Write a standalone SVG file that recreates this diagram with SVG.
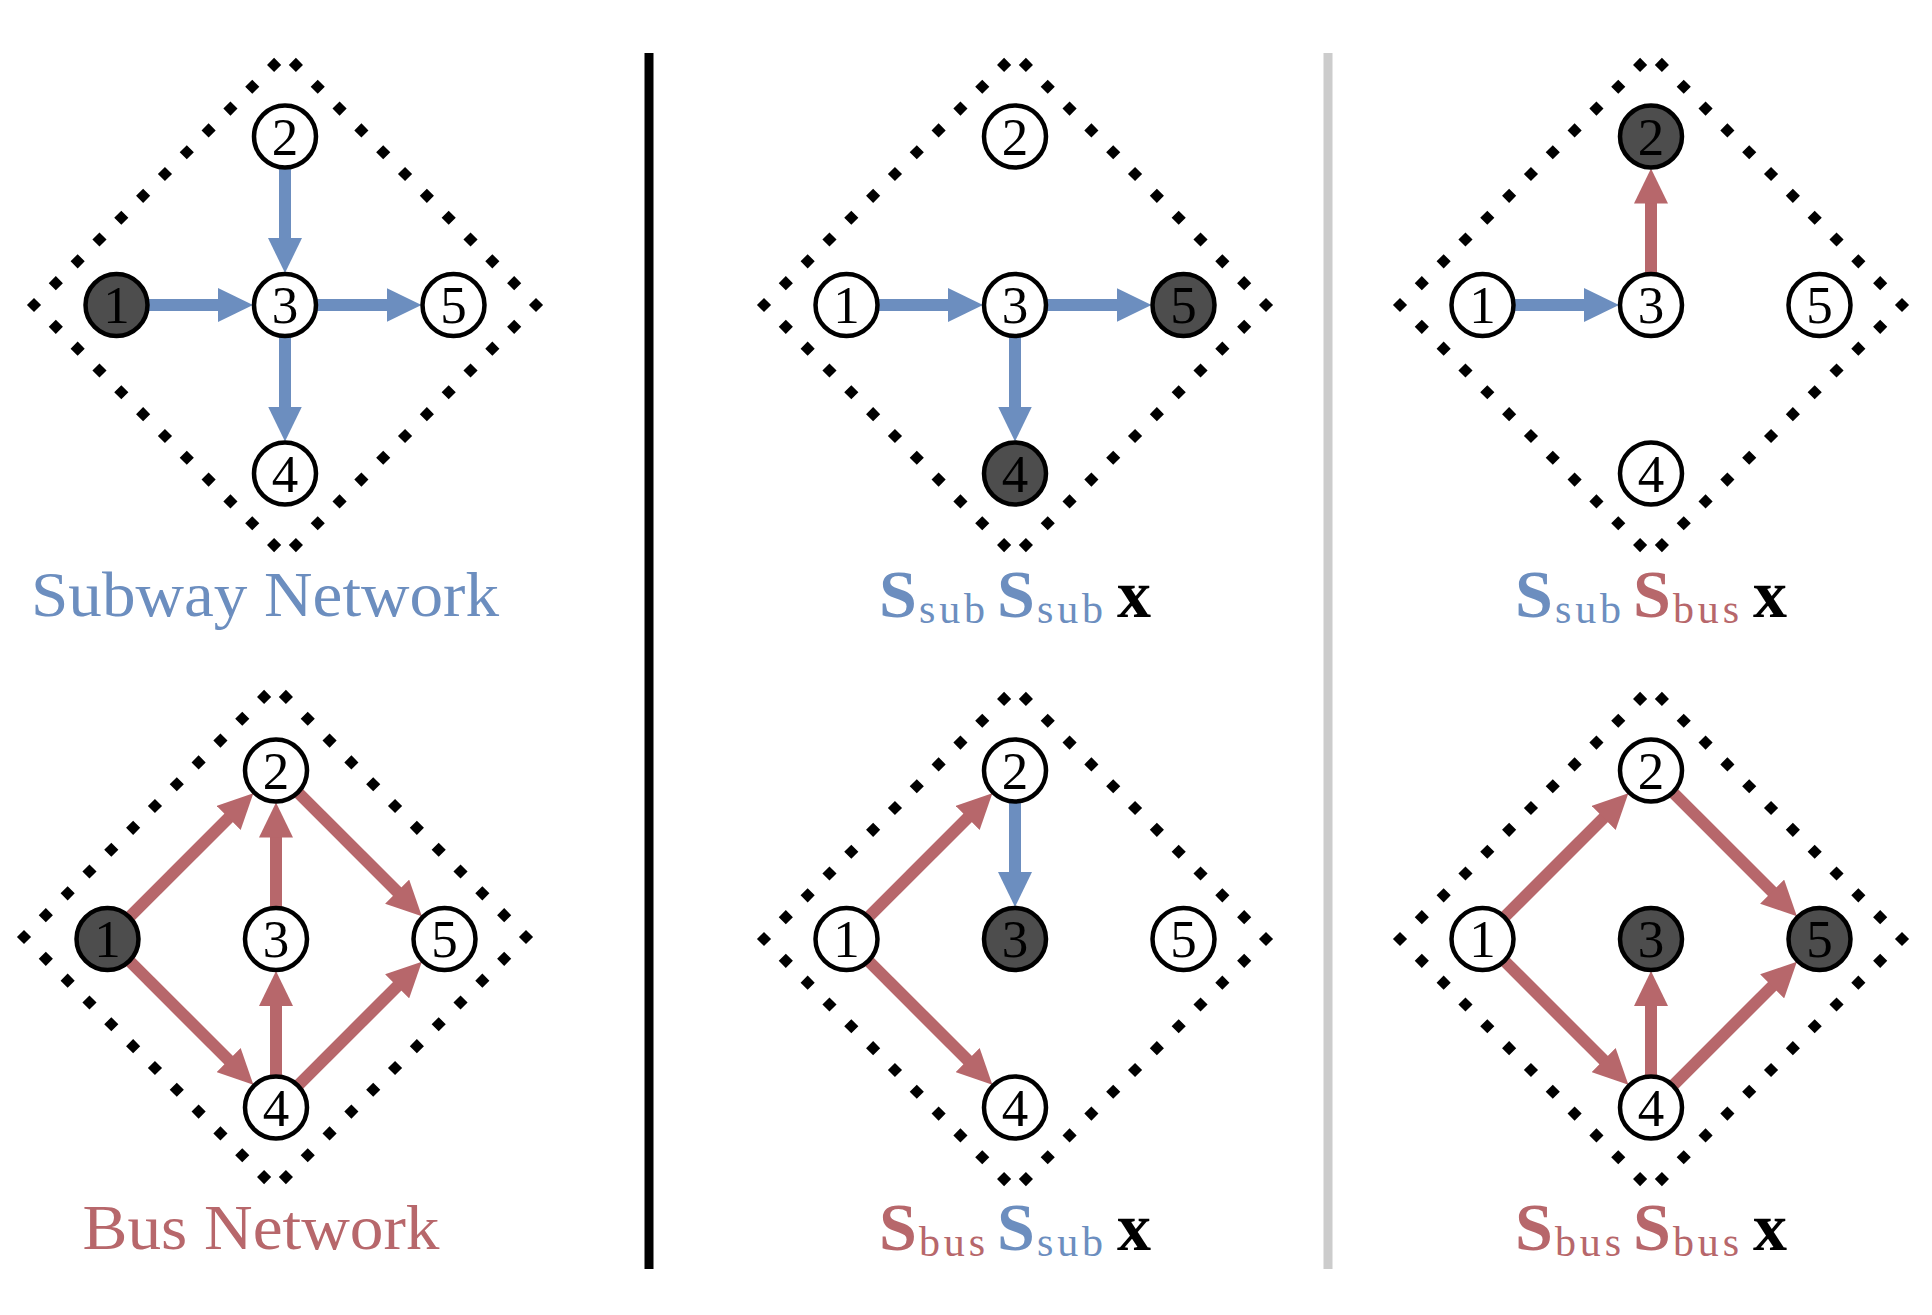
<svg xmlns="http://www.w3.org/2000/svg" width="1932" height="1315" viewBox="0 0 1932 1315">
<style>
.fl{fill:none;stroke:#000;stroke-width:10;stroke-linecap:butt;stroke-dasharray:10 20.867;stroke-dashoffset:20.434}
.node circle{fill:#fff;stroke:#000;stroke-width:4.5}
.node.on circle{fill:#4d4d4d}
.node text{font-family:"Liberation Serif",serif;font-size:53px;text-anchor:middle;fill:#000}
.sub-e{stroke:#6c8ebf;stroke-width:12;fill:none;marker-end:url(#ahB)}
.bus-e{stroke:#b7676b;stroke-width:12;fill:none;marker-end:url(#ahR)}
.title{font-family:"Liberation Serif",serif;font-size:64px;text-anchor:middle}
.S{font-family:"Liberation Serif",serif;font-size:68px;font-weight:bold}
.sb{font-family:"Liberation Serif",serif;font-size:42px}
.blue{fill:#6c8ebf}.red{fill:#b7676b}.blk{fill:#000}
</style>
<defs>
<marker id="ahB" markerUnits="userSpaceOnUse" viewBox="0 -17 35 34" markerWidth="35" markerHeight="34" refX="2" refY="0" orient="auto"><path d="M0,-17 L35,0 L0,17 Z" fill="#6c8ebf"/></marker>
<marker id="ahR" markerUnits="userSpaceOnUse" viewBox="0 -17 35 34" markerWidth="35" markerHeight="34" refX="2" refY="0" orient="auto"><path d="M0,-17 L35,0 L0,17 Z" fill="#b7676b"/></marker>
<g id="diamond">
<line class="fl" x1="0" y1="-251" x2="246.8" y2="-4.2"/>
<line class="fl" x1="0" y1="-251" x2="-246.8" y2="-4.2"/>
<line class="fl" x1="0" y1="251" x2="246.8" y2="4.2"/>
<line class="fl" x1="0" y1="251" x2="-246.8" y2="4.2"/>
<polygon points="-258.1,0 -251,-7.1 -243.9,0 -251,7.1" fill="#000"/>
<polygon points="243.9,0 251,-7.1 258.1,0 251,7.1" fill="#000"/>
</g>
</defs>
<rect width="1932" height="1315" fill="#fff"/>

<g id="separators">
<line x1="649" y1="53" x2="649" y2="1269" stroke="#000" stroke-width="9"/>
<line x1="1328" y1="53" x2="1328" y2="1269" stroke="#cccccc" stroke-width="9"/>
</g>

<g id="frames">
<use href="#diamond" transform="translate(285,305)"/>
<use href="#diamond" transform="translate(275,937)"/>
<use href="#diamond" transform="translate(1015,305)"/>
<use href="#diamond" transform="translate(1015,939)"/>
<use href="#diamond" transform="translate(1651,305)"/>
<use href="#diamond" transform="translate(1651,939)"/>
</g>

<g id="connectors">
<line class="sub-e" x1="148.5" y1="305" x2="220" y2="305"/>
<line class="sub-e" x1="285" y1="168.5" x2="285" y2="240"/>
<line class="sub-e" x1="317" y1="305" x2="388.5" y2="305"/>
<line class="sub-e" x1="285" y1="337" x2="285" y2="408.5"/>
<line class="bus-e" x1="130.13" y1="916.37" x2="230.04" y2="816.46"/>
<line class="bus-e" x1="130.13" y1="961.63" x2="230.04" y2="1061.54"/>
<line class="bus-e" x1="276" y1="907" x2="276" y2="835.5"/>
<line class="bus-e" x1="276" y1="1075.5" x2="276" y2="1004"/>
<line class="bus-e" x1="298.63" y1="793.13" x2="398.54" y2="893.04"/>
<line class="bus-e" x1="298.63" y1="1084.87" x2="398.54" y2="984.96"/>
<line class="sub-e" x1="878.5" y1="305" x2="950" y2="305"/>
<line class="sub-e" x1="1047" y1="305" x2="1118.5" y2="305"/>
<line class="sub-e" x1="1015" y1="337" x2="1015" y2="408.5"/>
<line class="bus-e" x1="869.13" y1="916.37" x2="969.04" y2="816.46"/>
<line class="bus-e" x1="869.13" y1="961.63" x2="969.04" y2="1061.54"/>
<line class="sub-e" x1="1015" y1="802.5" x2="1015" y2="874"/>
<line class="sub-e" x1="1514.5" y1="305" x2="1586" y2="305"/>
<line class="bus-e" x1="1651" y1="273" x2="1651" y2="201.5"/>
<line class="bus-e" x1="1505.13" y1="916.37" x2="1605.04" y2="816.46"/>
<line class="bus-e" x1="1505.13" y1="961.63" x2="1605.04" y2="1061.54"/>
<line class="bus-e" x1="1673.63" y1="793.13" x2="1773.54" y2="893.04"/>
<line class="bus-e" x1="1673.63" y1="1084.87" x2="1773.54" y2="984.96"/>
<line class="bus-e" x1="1651" y1="1075.5" x2="1651" y2="1004"/>
</g>

<g id="tl-n1" class="node on"><circle cx="116.5" cy="305" r="31"/><text x="116.5" y="323">1</text></g>
<g id="tl-n2" class="node"><circle cx="285" cy="136.5" r="31"/><text x="285" y="154.5">2</text></g>
<g id="tl-n3" class="node"><circle cx="285" cy="305" r="31"/><text x="285" y="323">3</text></g>
<g id="tl-n4" class="node"><circle cx="285" cy="473.5" r="31"/><text x="285" y="491.5">4</text></g>
<g id="tl-n5" class="node"><circle cx="453.5" cy="305" r="31"/><text x="453.5" y="323">5</text></g>

<g id="bl-n1" class="node on"><circle cx="107.5" cy="939" r="31"/><text x="107.5" y="957">1</text></g>
<g id="bl-n2" class="node"><circle cx="276" cy="770.5" r="31"/><text x="276" y="788.5">2</text></g>
<g id="bl-n3" class="node"><circle cx="276" cy="939" r="31"/><text x="276" y="957">3</text></g>
<g id="bl-n4" class="node"><circle cx="276" cy="1107.5" r="31"/><text x="276" y="1125.5">4</text></g>
<g id="bl-n5" class="node"><circle cx="444.5" cy="939" r="31"/><text x="444.5" y="957">5</text></g>

<g id="tm-n1" class="node"><circle cx="846.5" cy="305" r="31"/><text x="846.5" y="323">1</text></g>
<g id="tm-n2" class="node"><circle cx="1015" cy="136.5" r="31"/><text x="1015" y="154.5">2</text></g>
<g id="tm-n3" class="node"><circle cx="1015" cy="305" r="31"/><text x="1015" y="323">3</text></g>
<g id="tm-n4" class="node on"><circle cx="1015" cy="473.5" r="31"/><text x="1015" y="491.5">4</text></g>
<g id="tm-n5" class="node on"><circle cx="1183.5" cy="305" r="31"/><text x="1183.5" y="323">5</text></g>

<g id="bm-n1" class="node"><circle cx="846.5" cy="939" r="31"/><text x="846.5" y="957">1</text></g>
<g id="bm-n2" class="node"><circle cx="1015" cy="770.5" r="31"/><text x="1015" y="788.5">2</text></g>
<g id="bm-n3" class="node on"><circle cx="1015" cy="939" r="31"/><text x="1015" y="957">3</text></g>
<g id="bm-n4" class="node"><circle cx="1015" cy="1107.5" r="31"/><text x="1015" y="1125.5">4</text></g>
<g id="bm-n5" class="node"><circle cx="1183.5" cy="939" r="31"/><text x="1183.5" y="957">5</text></g>

<g id="tr-n1" class="node"><circle cx="1482.5" cy="305" r="31"/><text x="1482.5" y="323">1</text></g>
<g id="tr-n2" class="node on"><circle cx="1651" cy="136.5" r="31"/><text x="1651" y="154.5">2</text></g>
<g id="tr-n3" class="node"><circle cx="1651" cy="305" r="31"/><text x="1651" y="323">3</text></g>
<g id="tr-n4" class="node"><circle cx="1651" cy="473.5" r="31"/><text x="1651" y="491.5">4</text></g>
<g id="tr-n5" class="node"><circle cx="1819.5" cy="305" r="31"/><text x="1819.5" y="323">5</text></g>

<g id="br-n1" class="node"><circle cx="1482.5" cy="939" r="31"/><text x="1482.5" y="957">1</text></g>
<g id="br-n2" class="node"><circle cx="1651" cy="770.5" r="31"/><text x="1651" y="788.5">2</text></g>
<g id="br-n3" class="node on"><circle cx="1651" cy="939" r="31"/><text x="1651" y="957">3</text></g>
<g id="br-n4" class="node"><circle cx="1651" cy="1107.5" r="31"/><text x="1651" y="1125.5">4</text></g>
<g id="br-n5" class="node on"><circle cx="1819.5" cy="939" r="31"/><text x="1819.5" y="957">5</text></g>

<g id="labels">
<text class="title blue" x="265" y="616" textLength="468" lengthAdjust="spacingAndGlyphs">Subway Network</text>
<text class="title red" x="261" y="1249" textLength="357" lengthAdjust="spacingAndGlyphs">Bus Network</text>

<g id="label-tm">
<text class="S blue" x="879" y="617">S</text><text class="sb blue" x="919" y="623" textLength="66">sub</text>
<text class="S blue" x="997" y="617">S</text><text class="sb blue" x="1037" y="623" textLength="66">sub</text>
<text class="S blk" x="1117" y="617">x</text>
</g>
<g id="label-tr">
<text class="S blue" x="1515" y="617">S</text><text class="sb blue" x="1555" y="623" textLength="66">sub</text>
<text class="S red" x="1633" y="617">S</text><text class="sb red" x="1673" y="623" textLength="66">bus</text>
<text class="S blk" x="1753" y="617">x</text>
</g>
<g id="label-bm">
<text class="S red" x="879" y="1250">S</text><text class="sb red" x="919" y="1256" textLength="66">bus</text>
<text class="S blue" x="997" y="1250">S</text><text class="sb blue" x="1037" y="1256" textLength="66">sub</text>
<text class="S blk" x="1117" y="1250">x</text>
</g>
<g id="label-br">
<text class="S red" x="1515" y="1250">S</text><text class="sb red" x="1555" y="1256" textLength="66">bus</text>
<text class="S red" x="1633" y="1250">S</text><text class="sb red" x="1673" y="1256" textLength="66">bus</text>
<text class="S blk" x="1753" y="1250">x</text>
</g>
</g>
</svg>
